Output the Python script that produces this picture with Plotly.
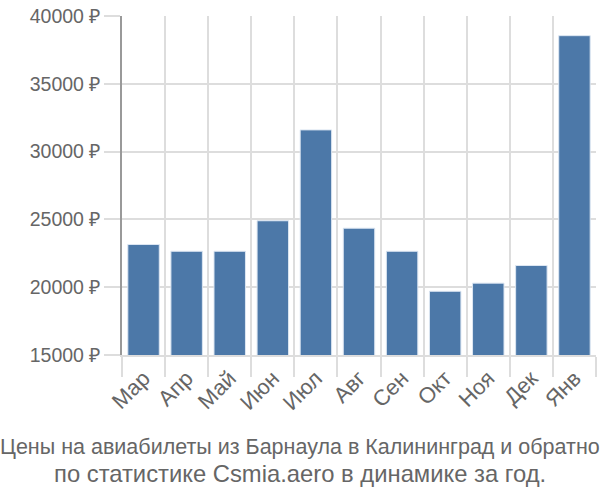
import plotly.graph_objects as go

months = ["Мар", "Апр", "Май", "Июн", "Июл", "Авг", "Сен", "Окт", "Ноя", "Дек", "Янв"]
prices = [23150, 22650, 22650, 24900, 31600, 24350, 22650, 19700, 20300, 21600, 38550]
y_ticks = [15000, 20000, 25000, 30000, 35000, 40000]
y_labels = [f"{v} ₽" for v in y_ticks]
title_lines = [
    "Цены на авиабилеты из Барнаула в Калининград и обратно",
    "по статистике Csmia.aero в динамике за год.",
]

fig = go.Figure(go.Bar(
    x=months,
    y=prices,
    marker=dict(color="#4c78a8", line=dict(color="#dce6f2", width=1)),
))

fig.update_layout(
    width=600,
    height=500,
    margin=dict(l=122, r=4, t=16, b=145),
    plot_bgcolor="white",
    paper_bgcolor="white",
    font=dict(family="Liberation Sans, Arial, sans-serif", color="#666666"),
    bargap=0.27,
    showlegend=False,
)

fig.update_xaxes(
    tickson="boundaries",
    showgrid=True,
    gridcolor="#dddddd",
    gridwidth=1.5,
    ticks="outside",
    ticklen=20,
    tickcolor="#dddddd",
    tickwidth=1.5,
    tickangle=-45,
    tickfont=dict(size=22),
    showline=True,
    linecolor="#dddddd",
    linewidth=1.5,
)

fig.update_yaxes(
    range=[15000, 40000],
    tickvals=y_ticks,
    ticktext=y_labels,
    showgrid=True,
    gridcolor="#dddddd",
    gridwidth=1.5,
    ticks="outside",
    ticklen=16,
    tickcolor="#dddddd",
    tickwidth=1.5,
    tickfont=dict(size=19.5),
    showline=True,
    linecolor="#999999",
    linewidth=1.5,
    zeroline=False,
)

# the first line is squeezed to fit the width in the original
for text, size, shift in [(title_lines[0], 21.5, -92), (title_lines[1], 23.8, -118)]:
    fig.add_annotation(
        text=text,
        xref="paper", yref="paper",
        x=0.5, y=0, xanchor="center", yanchor="middle",
        xshift=-59, yshift=shift,
        showarrow=False,
        font=dict(size=size, color="#666666"),
    )

fig.write_html("out.html", config={"displayModeBar": False},
               post_script="document.body.style.margin='0';")
